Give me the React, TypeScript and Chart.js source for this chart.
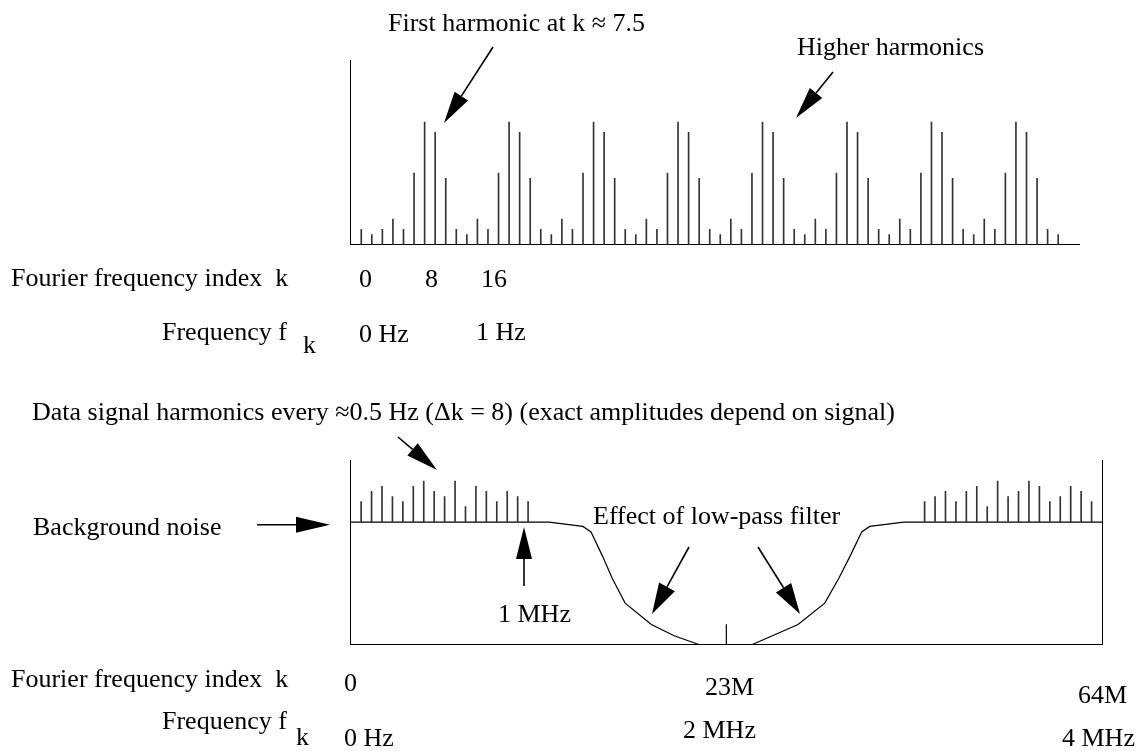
import React, { useEffect, useRef } from "react";
import { Chart, registerables } from "chart.js";

Chart.register(...registerables);

const W = 1139;
const H = 751;
const FONT = '26px "Liberation Serif", "Times New Roman", Times, serif';

// ---------------- data: top spectrum ----------------
const topIndex = [
  1, 2, 3, 4, 5, 6, 7, 8, 9, 10, 11, 12, 13, 14, 15, 16, 17, 18, 19, 20, 21, 22,
  23, 24, 25, 26, 27, 28, 29, 30, 31, 32, 33, 34, 35, 36, 37, 38, 39, 40, 41, 42,
  43, 44, 45, 46, 47, 48, 49, 50, 51, 52, 53, 54, 55, 56, 57, 58, 59, 60, 61, 62,
  63, 64, 65, 66, 67,
];
const topAmplitude = [
  1.5, 1, 1.5, 2.5, 1.5, 7, 12, 11, 6.5,
  1.5, 1, 2.5, 1.5, 7, 12, 11, 6.5,
  1.5, 1, 2.5, 1.5, 7, 12, 11, 6.5,
  1.5, 1, 2.5, 1.5, 7, 12, 11, 6.5,
  1.5, 1, 2.5, 1.5, 7, 12, 11, 6.5,
  1.5, 1, 2.5, 1.5, 7, 12, 11, 6.5,
  1.5, 1, 2.5, 1.5, 7, 12, 11, 6.5,
  1.5, 1, 2.5, 1.5, 7, 12, 11, 6.5,
  1.5, 1,
];
const topIndexMax = 69;
const amplitudeMax = 18;

// ---------------- data: bottom spectrum ----------------
const noiseLevel = 12;
const bottomIndexMax = 72;
const bottomLeftIndex = [1, 2, 3, 4, 5, 6, 7, 8, 9, 10, 11, 12, 13, 14, 15, 16, 17];
const bottomLeftHeight = [2, 3, 3.5, 2.5, 2, 3.5, 4, 3, 2.5, 4, 1.5, 3.5, 3, 2, 3, 2.5, 2];
const bottomRightIndex = [55, 56, 57, 58, 59, 60, 61, 62, 63, 64, 65, 66, 67, 68, 69, 70, 71];
const bottomRightHeight = [2, 2.5, 3, 2, 3, 3.5, 1.5, 4, 2.5, 3, 4, 3.5, 2, 2.5, 3.5, 3, 2];
const filterLeftX = [0, 19, 22.25, 23.03, 24.12, 25.06, 26.3, 28.81, 31.0, 33.43];
const filterLeftY = [12, 12, 11.57, 11.03, 8.69, 6.5, 4.07, 1.97, 0.88, 0];
const filterRightX = [38.44, 42.87, 45.43, 46.78, 47.87, 48.97, 49.74, 53, 72];
const filterRightY = [0, 1.97, 4.07, 6.5, 8.69, 11.03, 11.57, 12, 12];
const centerTickIndex = 36;
const centerTickHeight = 2;

// ---------------- tick labels ----------------
const topTickLabels = ["0", "8", "16"];
const topFreqLabels = ["0 Hz", "1 Hz"];
const bottomTickLabels = ["0", "23M", "64M"];
const bottomFreqLabels = ["0 Hz", "2 MHz", "4 MHz"];

// ---------------- layout (pixels) ----------------
const topArea = { left: 342.7, right: 1079.3, top: 60.7, bottom: 252.7 };
const bottomArea = { left: 342.7, right: 1110, top: 460.7, bottom: 652.7 };

const topTickPos = [[359, 287], [425, 287], [481, 287]];
const topFreqPos = [[359, 342], [476, 340]];
const bottomTickPos = [[344, 691], [705, 695], [1078, 703]];
const bottomFreqPos = [[344, 746], [683, 738], [1062, 746]];

function drawArrow(
  ctx: CanvasRenderingContext2D,
  x1: number, y1: number, x2: number, y2: number,
  headLen = 32, headHalf = 8, lw = 1.6
) {
  const a = Math.atan2(y2 - y1, x2 - x1);
  const bx = x2 - headLen * Math.cos(a);
  const by = y2 - headLen * Math.sin(a);
  ctx.save();
  ctx.strokeStyle = "#000";
  ctx.fillStyle = "#000";
  ctx.lineWidth = lw;
  ctx.beginPath();
  ctx.moveTo(x1, y1);
  ctx.lineTo(bx, by);
  ctx.stroke();
  ctx.beginPath();
  ctx.moveTo(x2, y2);
  ctx.lineTo(bx + headHalf * Math.sin(a), by - headHalf * Math.cos(a));
  ctx.lineTo(bx - headHalf * Math.sin(a), by + headHalf * Math.cos(a));
  ctx.closePath();
  ctx.fill();
  ctx.restore();
}

function text(ctx: CanvasRenderingContext2D, s: string, x: number, y: number) {
  ctx.fillText(s, x, y);
}

const topAnnotations = {
  id: "topAnnotations",
  afterDraw(chart: any) {
    const ctx: CanvasRenderingContext2D = chart.ctx;
    ctx.save();
    ctx.font = FONT;
    ctx.fillStyle = "#000";
    ctx.textBaseline = "alphabetic";
    text(ctx, "First harmonic at k \u2248 7.5", 388, 31);
    drawArrow(ctx, 493, 47, 444, 123);
    text(ctx, "Higher harmonics", 797, 55);
    drawArrow(ctx, 833, 72, 796, 118);
    text(ctx, "Fourier frequency index  k", 11, 286);
    topTickLabels.forEach((s, i) => text(ctx, s, topTickPos[i][0], topTickPos[i][1]));
    text(ctx, "Frequency f", 162, 340);
    text(ctx, "k", 303, 353);
    topFreqLabels.forEach((s, i) => text(ctx, s, topFreqPos[i][0], topFreqPos[i][1]));
    ctx.restore();
  },
};

const bottomAnnotations = {
  id: "bottomAnnotations",
  afterDraw(chart: any) {
    const ctx: CanvasRenderingContext2D = chart.ctx;
    ctx.save();
    ctx.font = FONT;
    ctx.fillStyle = "#000";
    ctx.textBaseline = "alphabetic";
    text(ctx, "Data signal harmonics every \u22480.5 Hz (\u0394k = 8) (exact amplitudes depend on signal)", 32, 420);
    drawArrow(ctx, 398, 437, 437, 470);
    text(ctx, "Background noise", 33, 535);
    drawArrow(ctx, 257, 524.7, 330, 524.7, 34, 8);
    text(ctx, "Effect of low-pass filter", 593, 524);
    drawArrow(ctx, 689, 547, 652, 614, 31, 9);
    drawArrow(ctx, 758, 547, 800, 614, 31, 9);
    text(ctx, "1 MHz", 498, 622);
    drawArrow(ctx, 524, 586, 524, 527);
    text(ctx, "Fourier frequency index  k", 11, 687);
    bottomTickLabels.forEach((s, i) => text(ctx, s, bottomTickPos[i][0], bottomTickPos[i][1]));
    text(ctx, "Frequency f", 162, 729);
    text(ctx, "k", 296, 745);
    bottomFreqLabels.forEach((s, i) => text(ctx, s, bottomFreqPos[i][0], bottomFreqPos[i][1]));
    ctx.restore();
  },
};

const hiddenAxis = (min: number, max: number, extra: any = {}) => ({
  min,
  max,
  offset: false,
  grid: { display: false },
  ticks: { display: false },
  border: { display: true, color: "#000", width: 1 },
  ...extra,
});

export default function App() {
  const topRef = useRef<HTMLCanvasElement>(null);
  const bottomRef = useRef<HTMLCanvasElement>(null);

  useEffect(() => {
    const top = new Chart(topRef.current!, {
      type: "bar",
      data: {
        datasets: [
          {
            data: topIndex.map((k, i) => ({ x: k, y: topAmplitude[i] })),
            backgroundColor: "#333",
            barThickness: 1,
            grouped: false,
          } as any,
        ],
      },
      options: {
        responsive: false,
        animation: false,
        devicePixelRatio: 1,
        events: [],
        layout: {
          padding: {
            left: topArea.left,
            right: W - topArea.right,
            top: topArea.top,
            bottom: H - topArea.bottom,
          },
        },
        plugins: { legend: { display: false }, tooltip: { enabled: false } },
        scales: {
          x: hiddenAxis(0, topIndexMax, { type: "linear" }),
          y: hiddenAxis(0, amplitudeMax),
        },
      } as any,
      plugins: [topAnnotations],
    });

    const bottom = new Chart(bottomRef.current!, {
      type: "bar",
      data: {
        datasets: [
          {
            type: "bar",
            data: bottomLeftIndex.map((k, i) => ({ x: k, y: [noiseLevel, noiseLevel + bottomLeftHeight[i]] })),
            backgroundColor: "#333",
            barThickness: 1,
            grouped: false,
          },
          {
            type: "bar",
            data: bottomRightIndex.map((k, i) => ({ x: k, y: [noiseLevel, noiseLevel + bottomRightHeight[i]] })),
            backgroundColor: "#333",
            barThickness: 1,
            grouped: false,
          },
          {
            type: "line",
            data: filterLeftX.map((x, i) => ({ x, y: filterLeftY[i] })),
            borderColor: "#000",
            borderWidth: 1.2,
            pointRadius: 0,
            tension: 0,
            fill: false,
          },
          {
            type: "line",
            data: filterRightX.map((x, i) => ({ x, y: filterRightY[i] })),
            borderColor: "#000",
            borderWidth: 1.2,
            pointRadius: 0,
            tension: 0,
            fill: false,
          },
          {
            type: "line",
            data: [
              { x: centerTickIndex, y: 0 },
              { x: centerTickIndex, y: centerTickHeight },
            ],
            borderColor: "#000",
            borderWidth: 1.2,
            pointRadius: 0,
            fill: false,
          },
        ] as any,
      },
      options: {
        responsive: false,
        animation: false,
        devicePixelRatio: 1,
        events: [],
        layout: {
          padding: {
            left: bottomArea.left,
            right: W - bottomArea.right,
            top: bottomArea.top,
            bottom: H - bottomArea.bottom,
          },
        },
        plugins: { legend: { display: false }, tooltip: { enabled: false } },
        scales: {
          x: hiddenAxis(0, bottomIndexMax, { type: "linear" }),
          y: hiddenAxis(0, amplitudeMax),
          y2: hiddenAxis(0, amplitudeMax, { position: "right" }),
        },
      } as any,
      plugins: [bottomAnnotations],
    });

    return () => {
      top.destroy();
      bottom.destroy();
    };
  }, []);

  const canvasStyle: React.CSSProperties = { position: "absolute", left: 0, top: 0 };
  return (
    <div style={{ position: "fixed", left: 0, top: 0, width: W, height: H, background: "#fff" }}>
      <canvas ref={topRef} width={W} height={H} style={canvasStyle} />
      <canvas ref={bottomRef} width={W} height={H} style={canvasStyle} />
    </div>
  );
}
